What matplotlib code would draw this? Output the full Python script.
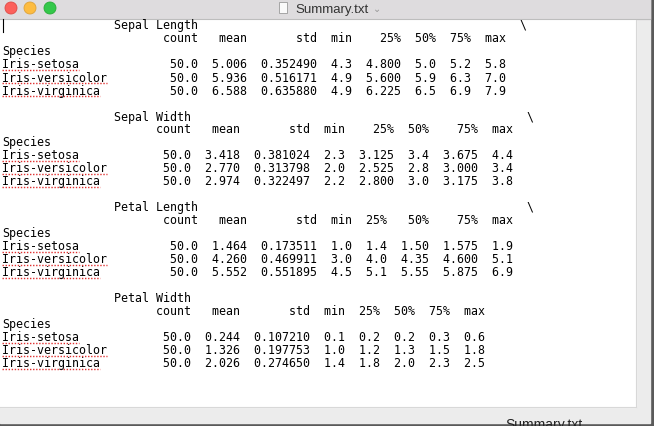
import matplotlib
matplotlib.use("Agg")
import matplotlib.pyplot as plt
from matplotlib.patches import Rectangle, Circle

species = ["Iris-setosa", "Iris-versicolor", "Iris-virginica"]
stats = ["count", "mean", "std", "min", "25%", "50%", "75%", "max"]

sepal_length = [[50.0, 5.006, 0.352490, 4.3, 4.800, 5.0, 5.2, 5.8],
                [50.0, 5.936, 0.516171, 4.9, 5.600, 5.9, 6.3, 7.0],
                [50.0, 6.588, 0.635880, 4.9, 6.225, 6.5, 6.9, 7.9]]
sepal_width = [[50.0, 3.418, 0.381024, 2.3, 3.125, 3.4, 3.675, 4.4],
               [50.0, 2.770, 0.313798, 2.0, 2.525, 2.8, 3.000, 3.4],
               [50.0, 2.974, 0.322497, 2.2, 2.800, 3.0, 3.175, 3.8]]
petal_length = [[50.0, 1.464, 0.173511, 1.0, 1.4, 1.50, 1.575, 1.9],
                [50.0, 4.260, 0.469911, 3.0, 4.0, 4.35, 4.600, 5.1],
                [50.0, 5.552, 0.551895, 4.5, 5.1, 5.55, 5.875, 6.9]]
petal_width = [[50.0, 0.244, 0.107210, 0.1, 0.2, 0.2, 0.3, 0.6],
               [50.0, 1.326, 0.197753, 1.0, 1.2, 1.3, 1.5, 1.8],
               [50.0, 2.026, 0.274650, 1.4, 1.8, 2.0, 2.3, 2.5]]

sections = [("Sepal Length", sepal_length, True),
            ("Sepal Width", sepal_width, True),
            ("Petal Length", petal_length, True),
            ("Petal Width", petal_width, False)]


def fmt_col(vals):
    for d in range(1, 7):
        if all(abs(round(v, d) - v) < 1e-9 for v in vals):
            break
    return [f"{v:.{d}f}" for v in vals]


def section_lines(name, table, cont):
    cols = [fmt_col([row[j] for row in table]) for j in range(len(stats))]
    widths = [len(name) + 1] + [max(len(stats[j]), max(len(s) for s in cols[j])) + 2
                                for j in range(1, len(stats))]
    total = 15 + sum(widths)
    head = (" " * 16 + name)
    if cont:
        head = head.ljust(total + 2) + "\\"
    lines = [head, " " * 15 + "".join(stats[j].rjust(widths[j]) for j in range(len(stats))), "Species"]
    for i, sp in enumerate(species):
        lines.append(sp.ljust(15) + "".join(cols[j][i].rjust(widths[j]) for j in range(len(stats))))
    return lines


lines = []
for k, (name, table, cont) in enumerate(sections):
    if k:
        lines.append("")
    lines += section_lines(name, table, cont)

fig = plt.figure(figsize=(6.54, 4.27), dpi=100)
ax = fig.add_axes([0, 0, 1, 1])
ax.set_xlim(0, 654)
ax.set_ylim(427, 0)
ax.axis("off")

# desktop / window chrome
ax.add_patch(Rectangle((0, 0), 654, 427, color="#5a5a5a"))
ax.add_patch(Rectangle((0, 0), 650, 424, color="#ececec"))
ax.add_patch(Rectangle((0, 0), 650, 20, color="#dedcde"))
ax.plot([0, 650], [20, 20], color="#bdbdbd", lw=0.8)
ax.add_patch(Rectangle((0, 21), 636, 387, color="white"))
ax.plot([636, 636], [21, 408], color="#d8d8d8", lw=0.8)
ax.plot([0, 636], [408, 408], color="#d8d8d8", lw=0.8)
for cx, c, e in [(11, "#fc605b", "#de4a45"), (30, "#fdbc40", "#dea236"), (50, "#34c84a", "#27aa35")]:
    ax.add_patch(Circle((cx, 9), 6, facecolor=c, edgecolor=e, lw=0.6))
ax.add_patch(Rectangle((279, 3), 8, 11, facecolor="#fafafa", edgecolor="#9a9a9a", lw=0.6))
ax.text(295, 9.5, "Summary.txt", fontsize=9.5, family="Liberation Sans", va="center", color="#333333")
ax.text(373, 9.5, "\u2304", fontsize=7, va="center", color="#999999")
ax.text(505, 418, "Summary.txt", fontsize=10, family="Liberation Sans", va="top", color="#222222")
ax.plot([3, 3], [20, 33], color="black", lw=0.8)

cw = 7.0
for i, ln in enumerate(lines):
    y = 26 + 13 * i
    ax.text(2, y, ln, family="DejaVu Sans Mono", fontsize=8.4, va="center", ha="left", color="black")
    for sp in species:
        if ln.startswith(sp):
            ax.plot([2, 2 + cw * len(sp)], [y + 6, y + 6], color="#e03030", lw=1.0, ls=(0, (1, 1.2)))

fig.savefig("out.png", dpi=100)
